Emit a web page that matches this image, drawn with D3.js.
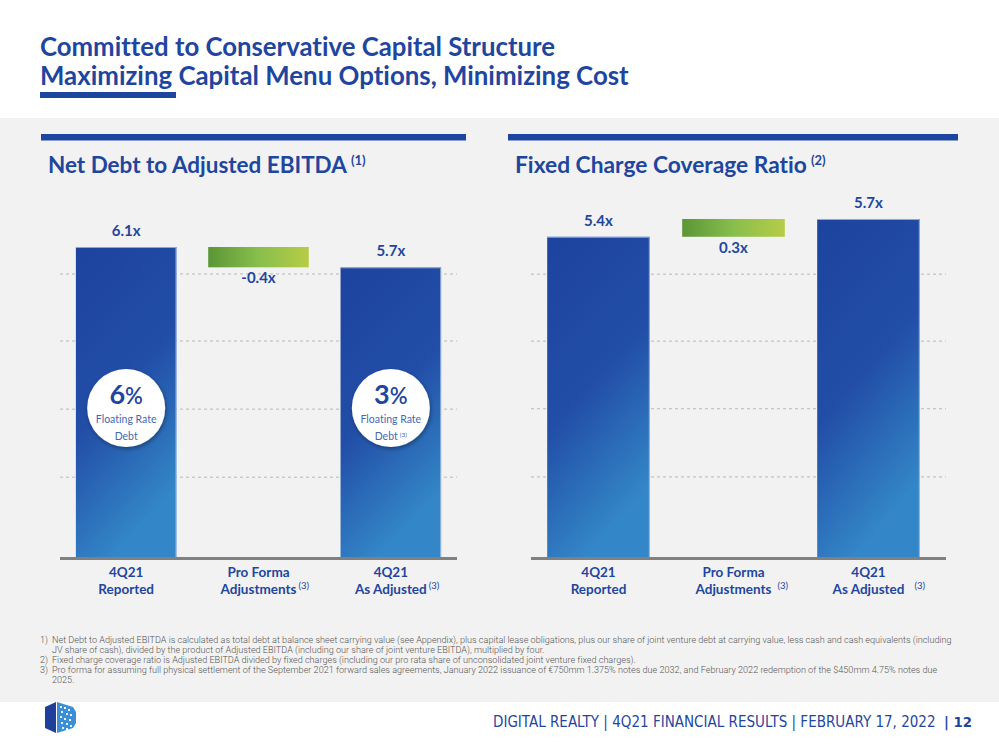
<!DOCTYPE html>
<html><head><meta charset="utf-8">
<script src="https://cdn.jsdelivr.net/npm/d3@7"></script>
<style>body{margin:0;background:#fff;} svg{display:block;} text{font-variant-ligatures:none;font-feature-settings:"liga" 0;}</style>
</head><body>
<svg id="c" width="999" height="750"></svg>
<script>
// ---------------- DATA ----------------
const catLine1 = ["4Q21", "Pro Forma", "4Q21"];
const catLine2 = ["Reported", "Adjustments", "As Adjusted"];
const catNote = ["", "(3)", "(3)"];
const barKinds = ["total", "delta", "total"];

const debtValues = [6.1, -0.4, 5.7];
const debtLabels = ["6.1x", "-0.4x", "5.7x"];
const debtGrid = [1.57, 2.91, 4.25, 5.57];

const fccValues = [5.4, 0.3, 5.7];
const fccLabels = ["5.4x", "0.3x", "5.7x"];
const fccGrid = [1.35, 2.5, 3.64, 4.77];

const floatIdx = [0, 2];
const floatPct = ["6", "3"];
const floatNote = ["", "(3)"];

const titleLines = ["Committed to Conservative Capital Structure", "Maximizing Capital Menu Options, Minimizing Cost"];
const panelTitles = ["Net Debt to Adjusted EBITDA", "Fixed Charge Coverage Ratio"];
const panelNotes = ["(1)", "(2)"];
const footnotes = [
  ["1)", "Net Debt to Adjusted EBITDA is calculated as total debt at balance sheet carrying value (see Appendix), plus capital lease obligations, plus our share of joint venture debt at carrying value, less cash and cash equivalents (including"],
  ["", "JV share of cash), divided by the product of Adjusted EBITDA (including our share of joint venture EBITDA), multiplied by four."],
  ["2)", "Fixed charge coverage ratio is Adjusted EBITDA divided by fixed charges (including our pro rata share of unconsolidated joint venture fixed charges)."],
  ["3)", "Pro forma for assuming full physical settlement of the September 2021 forward sales agreements, January 2022 issuance of \u20AC750mm 1.375% notes due 2032, and February 2022 redemption of the $450mm 4.75% notes due"],
  ["", "2025."]
];
const footerText = "DIGITAL REALTY | 4Q21 FINANCIAL RESULTS | FEBRUARY 17, 2022";
const pageNum = "| 12";

// ---------------- STYLE ----------------
const BLUE = "#1f469f";
const FONT = "Lato, 'Open Sans', sans-serif";
const svg = d3.select("#c");

function fit(sel, target) {
  const w = sel.node().getComputedTextLength();
  const fs = parseFloat(sel.attr("font-size"));
  sel.attr("font-size", (fs * target / w).toFixed(2));
  return sel;
}

const defs = svg.append("defs");
const bg = defs.append("linearGradient").attr("id", "gBlue")
  .attr("x1", 0).attr("y1", 0).attr("x2", 0.35).attr("y2", 1);
bg.append("stop").attr("offset", 0).attr("stop-color", "#1d439e");
bg.append("stop").attr("offset", 0.55).attr("stop-color", "#224ea7");
bg.append("stop").attr("offset", 1).attr("stop-color", "#3386c7");
const gg = defs.append("linearGradient").attr("id", "gGreen")
  .attr("x1", 0).attr("y1", 0).attr("x2", 1).attr("y2", 0);
gg.append("stop").attr("offset", 0).attr("stop-color", "#5b9637");
gg.append("stop").attr("offset", 0.5).attr("stop-color", "#88be4c");
gg.append("stop").attr("offset", 1).attr("stop-color", "#b7cc47");
const sh = defs.append("filter").attr("id", "shadow").attr("x", "-30%").attr("y", "-30%").attr("width", "160%").attr("height", "160%");
sh.append("feDropShadow").attr("dx", 1).attr("dy", 2).attr("stdDeviation", 2).attr("flood-color", "#000").attr("flood-opacity", 0.35);

// backgrounds
svg.append("rect").attr("width", 999).attr("height", 750).attr("fill", "#fff");
svg.append("rect").attr("y", 118).attr("width", 999).attr("height", 584).attr("fill", "#f2f2f2");

// main title
titleLines.forEach((t, i) => {
  const s = svg.append("text").attr("x", 40).attr("y", 56 + i * 28.5)
    .attr("font-family", FONT).attr("font-weight", 700).attr("font-size", 24)
    .attr("fill", BLUE).text(t);
  fit(s, i === 0 ? 515 : 589);
});
svg.append("rect").attr("x", 40).attr("y", 92).attr("width", 136).attr("height", 6).attr("fill", BLUE);

// ---------------- PANELS ----------------
function drawPanel(p) {
  const g = svg.append("g");
  g.append("rect").attr("x", p.barX0).attr("y", 134).attr("width", p.barX1 - p.barX0).attr("height", 6.5).attr("fill", BLUE);
  const t = g.append("text").attr("x", p.titleX).attr("y", 173)
    .attr("font-family", FONT).attr("font-weight", 700).attr("font-size", 20)
    .attr("fill", BLUE).text(p.title);
  fit(t, p.titleW);
  g.append("text").attr("x", p.titleX + p.titleW + 4).attr("y", 165)
    .attr("font-family", FONT).attr("font-weight", 700).attr("font-size", 13)
    .attr("fill", BLUE).text(p.note);

  const x = d3.scaleBand().domain(d3.range(3)).range(p.xRange).paddingInner(0.24).paddingOuter(0.12);
  const y = d3.scaleLinear().domain(p.yDomain).range([557, p.yTop]);

  g.selectAll(".grid").data(p.grid).join("line")
    .attr("x1", p.axisX[0]).attr("x2", p.axisX[1])
    .attr("y1", d => y(d)).attr("y2", d => y(d))
    .attr("stroke", "#b8b8b8").attr("stroke-width", 1).attr("stroke-dasharray", "3,3");

  const bars = p.values.map((v, i) => {
    if (barKinds[i] === "delta") {
      const s = p.values[i - 1], e = s + v;
      return { i, top: y(Math.max(s, e)), bot: y(Math.min(s, e)), kind: "delta" };
    }
    return { i, top: y(v), bot: y(0), kind: "total" };
  });

  g.selectAll(".bar").data(bars).join("rect")
    .attr("x", d => x(d.i)).attr("width", x.bandwidth())
    .attr("y", d => d.top).attr("height", d => d.bot - d.top)
    .attr("fill", d => d.kind === "delta" ? "url(#gGreen)" : "url(#gBlue)");
  g.selectAll(".edge").data(bars.filter(d => d.kind === "total")).join("path")
    .attr("d", d => `M${x(d.i)},${d.top + 0.5}H${x(d.i) + x.bandwidth() - 0.5}V${d.bot}`)
    .attr("fill", "none").attr("stroke", "#aac3ea").attr("stroke-width", 1).attr("opacity", 0.8);

  g.selectAll(".val").data(bars).join("text")
    .attr("x", d => x(d.i) + x.bandwidth() / 2)
    .attr("y", d => d.kind === "delta" ? d.bot + 16 : d.top - 11)
    .attr("text-anchor", "middle").attr("font-family", FONT).attr("font-weight", 700)
    .attr("font-size", 15).attr("fill", BLUE).text(d => p.labels[d.i]);

  g.append("line").attr("x1", p.axisX[0]).attr("x2", p.axisX[1]).attr("y1", 558.5).attr("y2", 558.5)
    .attr("stroke", "#808080").attr("stroke-width", 3);

  d3.range(3).forEach(i => {
    const cx = x(i) + x.bandwidth() / 2;
    g.append("text").attr("x", cx).attr("y", 577).attr("text-anchor", "middle")
      .attr("font-family", FONT).attr("font-weight", 700).attr("font-size", 13.5)
      .attr("fill", BLUE).text(catLine1[i]);
    const l2 = g.append("text").attr("x", cx).attr("y", 594).attr("text-anchor", "middle")
      .attr("font-family", FONT).attr("font-weight", 700).attr("font-size", 13.5)
      .attr("fill", BLUE).text(catLine2[i]);
    if (catNote[i]) {
      const w = l2.node().getComputedTextLength();
      g.append("text").attr("x", cx + w / 2 + p.noteGap[i]).attr("y", 589)
        .attr("font-family", FONT).attr("font-size", 9.5).attr("fill", BLUE).text(catNote[i]);
    }
  });

  if (p.circles) {
    floatIdx.forEach((bi, k) => {
      const cx = x(bi) + x.bandwidth() / 2, cy = 408;
      g.append("circle").attr("cx", cx).attr("cy", cy).attr("r", 39)
        .attr("fill", "#fff").attr("filter", "url(#shadow)");
      const pt = g.append("text").attr("x", cx).attr("y", 404).attr("text-anchor", "middle")
        .attr("font-family", FONT).attr("fill", BLUE);
      pt.append("tspan").attr("font-weight", 700).attr("font-size", 27).text(floatPct[k]);
      pt.append("tspan").attr("font-weight", 600).attr("font-size", 22).text("%");
      g.append("text").attr("x", cx).attr("y", 423).attr("text-anchor", "middle")
        .attr("font-family", FONT).attr("font-size", 10.5).attr("fill", "#4468b2").text("Floating Rate");
      const dt = g.append("text").attr("x", cx).attr("y", 440).attr("text-anchor", "middle")
        .attr("font-family", FONT).attr("font-size", 10.5).attr("fill", "#4468b2");
      dt.append("tspan").text("Debt");
      if (floatNote[k]) dt.append("tspan").attr("dx", 2).attr("dy", -3).attr("font-size", 6.5).text(floatNote[k]);
    });
  }
}

drawPanel({
  barX0: 41, barX1: 466, titleX: 48, titleW: 299, title: panelTitles[0], note: panelNotes[0],
  xRange: [60, 457], axisX: [60, 457], yDomain: [0, 7], yTop: 557 - 7 * 50.82,
  values: debtValues, labels: debtLabels, grid: debtGrid, circles: true, noteGap: [0, 2, 2]
});
drawPanel({
  barX0: 508, barX1: 958, titleX: 515, titleW: 292, title: panelTitles[1], note: panelNotes[1],
  xRange: [531, 936], axisX: [531, 946], yDomain: [0, 6], yTop: 557 - 6 * 59.3,
  values: fccValues, labels: fccLabels, grid: fccGrid, circles: false, noteGap: [0, 6, 10]
});

// ---------------- FOOTNOTES ----------------
const fnY = [643, 652.5, 663, 673, 682.5];
let fnSize = null;
footnotes.forEach((f, i) => {
  const t = svg.append("text").attr("x", 52).attr("y", fnY[i]).attr("font-family", "Roboto, sans-serif")
    .attr("font-weight", 300).attr("font-size", 8).attr("fill", "#555").text(f[1]);
  if (i === 0) { fit(t, 901); fnSize = t.attr("font-size"); }
  else t.attr("font-size", fnSize);
  if (f[0]) svg.append("text").attr("x", 40).attr("y", fnY[i]).attr("font-family", "Roboto, sans-serif")
    .attr("font-weight", 300).attr("font-size", fnSize).attr("fill", "#555").text(f[0]);
});

// ---------------- FOOTER ----------------
const FF = "'Liberation Sans Narrow', 'DejaVu Sans Condensed', 'Liberation Sans', sans-serif";
const ft = svg.append("text").attr("x", 493).attr("y", 727)
  .attr("font-family", FF).attr("font-size", 14).attr("fill", BLUE).text(footerText);
fit(ft, 443);
const pn = svg.append("text").attr("x", 944).attr("y", 727)
  .attr("font-family", FF).attr("font-weight", 700).attr("font-size", 14).attr("fill", BLUE).text(pageNum);
fit(pn, 28);

// logo
const logo = svg.append("g");
logo.append("path").attr("d", "M45,707 L56,702 L56,733 L45,728 Z").attr("fill", "#1f3f9a");
logo.append("path").attr("d", "M57,702 L73,707 L76,712 L76,723 L73,728 L57,733 Z").attr("fill", "#3a8fd6");
[[60,706],[64,707],[68,709],[61,711],[66,713],[70,714],[60,716],[64,718],[69,719],[61,722],[66,723],[70,725],[62,727],[66,728]].forEach(([a,b]) => {
  logo.append("rect").attr("x", a).attr("y", b).attr("width", 2).attr("height", 2).attr("fill", "#fff").attr("opacity", 0.9);
});
</script>
</body></html>
